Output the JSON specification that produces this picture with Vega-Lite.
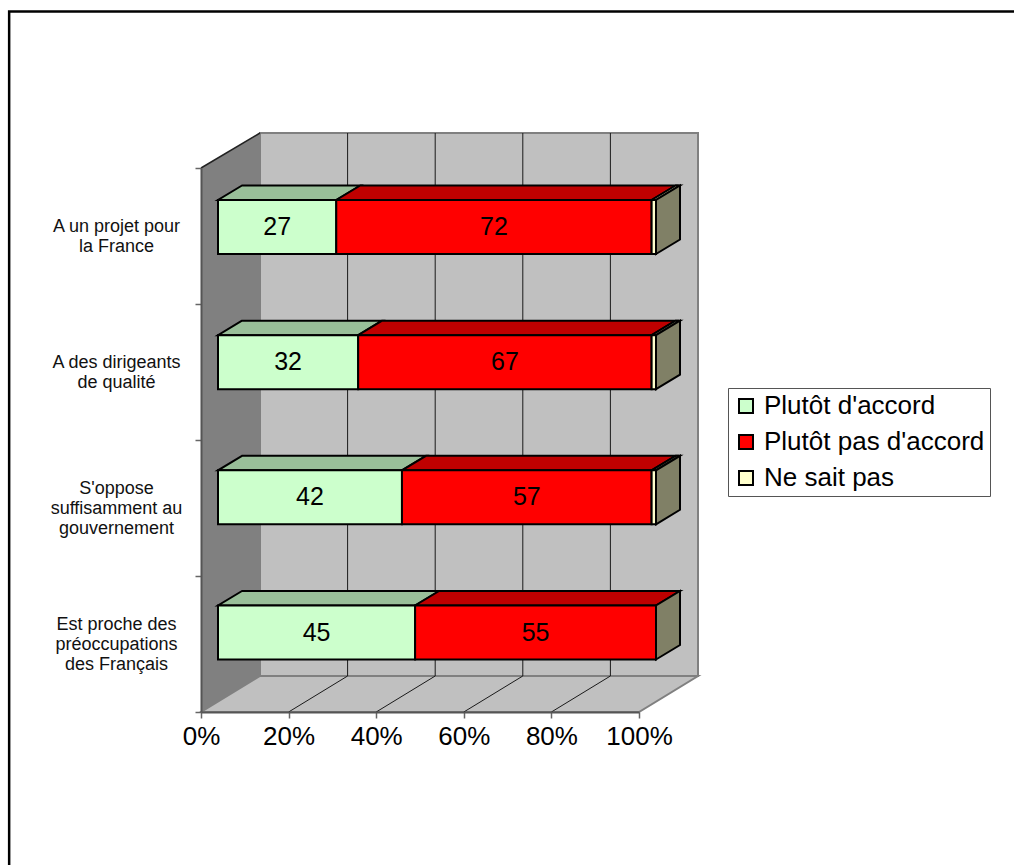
{"$schema":"https://vega.github.io/schema/vega-lite/v6.json","width":438,"height":544,"autosize":{"type":"none"},"padding":{"left":201,"top":168,"right":375,"bottom":153},"background":"white","config":{"view":{"stroke":null},"font":"Liberation Sans"},"datasets":{"main":[{"category":"A un projet pour|la France","series":"Plutôt d'accord","value":27,"rank":1},{"category":"A un projet pour|la France","series":"Plutôt pas d'accord","value":72,"rank":2},{"category":"A un projet pour|la France","series":"Ne sait pas","value":1,"rank":3},{"category":"A des dirigeants|de qualité","series":"Plutôt d'accord","value":32,"rank":1},{"category":"A des dirigeants|de qualité","series":"Plutôt pas d'accord","value":67,"rank":2},{"category":"A des dirigeants|de qualité","series":"Ne sait pas","value":1,"rank":3},{"category":"S'oppose|suffisamment au|gouvernement","series":"Plutôt d'accord","value":42,"rank":1},{"category":"S'oppose|suffisamment au|gouvernement","series":"Plutôt pas d'accord","value":57,"rank":2},{"category":"S'oppose|suffisamment au|gouvernement","series":"Ne sait pas","value":1,"rank":3},{"category":"Est proche des|préoccupations|des Français","series":"Plutôt d'accord","value":45,"rank":1},{"category":"Est proche des|préoccupations|des Français","series":"Plutôt pas d'accord","value":55,"rank":2},{"category":"Est proche des|préoccupations|des Français","series":"Ne sait pas","value":0,"rank":3}],"grid":[{"x":33.47,"x2":33.47,"y":36,"y2":579},{"x":53.47,"x2":53.47,"y":36,"y2":579},{"x":73.47,"x2":73.47,"y":36,"y2":579},{"x":93.47,"x2":93.47,"y":36,"y2":579},{"x":20,"x2":33.47,"y":0,"y2":36},{"x":40,"x2":53.47,"y":0,"y2":36},{"x":60,"x2":73.47,"y":0,"y2":36},{"x":80,"x2":93.47,"y":0,"y2":36}],"tops":[{"id":"1a","series":"Plutôt d'accord","y":512,"x":3.88,"x2":30.88},{"id":"1a","series":"Plutôt d'accord","y":526.5,"x":9.36,"x2":36.36},{"id":"1b","series":"Plutôt pas d'accord","y":512,"x":30.88,"x2":102.88},{"id":"1b","series":"Plutôt pas d'accord","y":526.5,"x":36.36,"x2":108.36},{"id":"1c","series":"Ne sait pas","y":512,"x":102.88,"x2":103.88},{"id":"1c","series":"Ne sait pas","y":526.5,"x":108.36,"x2":109.36},{"id":"2a","series":"Plutôt d'accord","y":376.8,"x":3.88,"x2":35.88},{"id":"2a","series":"Plutôt d'accord","y":391.3,"x":9.36,"x2":41.36},{"id":"2b","series":"Plutôt pas d'accord","y":376.8,"x":35.88,"x2":102.88},{"id":"2b","series":"Plutôt pas d'accord","y":391.3,"x":41.36,"x2":108.36},{"id":"2c","series":"Ne sait pas","y":376.8,"x":102.88,"x2":103.88},{"id":"2c","series":"Ne sait pas","y":391.3,"x":108.36,"x2":109.36},{"id":"3a","series":"Plutôt d'accord","y":241.7,"x":3.88,"x2":45.88},{"id":"3a","series":"Plutôt d'accord","y":256.2,"x":9.36,"x2":51.36},{"id":"3b","series":"Plutôt pas d'accord","y":241.7,"x":45.88,"x2":102.88},{"id":"3b","series":"Plutôt pas d'accord","y":256.2,"x":51.36,"x2":108.36},{"id":"3c","series":"Ne sait pas","y":241.7,"x":102.88,"x2":103.88},{"id":"3c","series":"Ne sait pas","y":256.2,"x":108.36,"x2":109.36},{"id":"4a","series":"Plutôt d'accord","y":106.5,"x":3.88,"x2":48.88},{"id":"4a","series":"Plutôt d'accord","y":121,"x":9.36,"x2":54.36},{"id":"4b","series":"Plutôt pas d'accord","y":106.5,"x":48.88,"x2":103.88},{"id":"4b","series":"Plutôt pas d'accord","y":121,"x":54.36,"x2":109.36}],"sides":[{"id":"1","x":103.88,"y":458,"y2":512},{"id":"1","x":109.36,"y":472.5,"y2":526.5},{"id":"2","x":103.88,"y":322.8,"y2":376.8},{"id":"2","x":109.36,"y":337.3,"y2":391.3},{"id":"3","x":103.88,"y":187.7,"y2":241.7},{"id":"3","x":109.36,"y":202.2,"y2":256.2},{"id":"4","x":103.88,"y":52.5,"y2":106.5},{"id":"4","x":109.36,"y":67,"y2":121}]},"resolve":{"scale":{"y":"independent"}},"layer":[{"data":{"values":[{"x":-43.8,"x2":205,"y":700.5,"y2":-238}]},"mark":{"type":"rect","fill":"white","stroke":"black","strokeWidth":2.5},"encoding":{"x":{"field":"x","type":"quantitative","scale":{"domain":[0,100],"nice":false,"zero":false},"axis":{"values":[0,20,40,60,80,100],"labelExpr":"datum.value + '%'","title":null,"grid":false,"domainColor":"#555555","domainWidth":2,"tickColor":"#666666","tickWidth":1.5,"tickSize":6,"labelFontSize":26,"labelFont":"Liberation Sans","labelColor":"black","labelPadding":5,"labelFlush":false,"zindex":1}},"x2":{"field":"x2"},"y":{"field":"y","type":"quantitative","scale":{"domain":[0,544],"nice":false,"zero":false},"axis":null},"y2":{"field":"y2"}}},{"data":{"values":[{"x":13.47,"x2":113.47,"y":36,"y2":579}]},"mark":{"type":"rect","fill":"#c0c0c0","stroke":"#808080","strokeWidth":2},"encoding":{"x":{"field":"x","type":"quantitative","scale":{"domain":[0,100],"nice":false,"zero":false}},"x2":{"field":"x2"},"y":{"field":"y","type":"quantitative","scale":{"domain":[0,544],"nice":false,"zero":false},"axis":null},"y2":{"field":"y2"}}},{"data":{"values":[{"x":0,"y":0,"y2":544},{"x":13.47,"y":36,"y2":579}]},"mark":{"type":"area","orient":"vertical","fill":"#808080"},"encoding":{"x":{"field":"x","type":"quantitative","scale":{"domain":[0,100],"nice":false,"zero":false}},"y":{"field":"y","type":"quantitative","scale":{"domain":[0,544],"nice":false,"zero":false},"axis":null},"y2":{"field":"y2"}}},{"data":{"values":[{"x":0,"x2":100,"y":0},{"x":13.47,"x2":113.47,"y":36}]},"mark":{"type":"area","orient":"horizontal","fill":"#c0c0c0","stroke":"#808080","strokeWidth":2},"encoding":{"x":{"field":"x","type":"quantitative","scale":{"domain":[0,100],"nice":false,"zero":false}},"x2":{"field":"x2"},"y":{"field":"y","type":"quantitative","scale":{"domain":[0,544],"nice":false,"zero":false},"axis":null}}},{"data":{"name":"grid"},"mark":{"type":"rule","color":"#1a1a1a","strokeWidth":1},"encoding":{"x":{"field":"x","type":"quantitative","scale":{"domain":[0,100],"nice":false,"zero":false}},"x2":{"field":"x2"},"y":{"field":"y","type":"quantitative","scale":{"domain":[0,544],"nice":false,"zero":false},"axis":null},"y2":{"field":"y2"}}},{"data":{"values":[{"x":0,"x2":13.47,"y":544,"y2":579}]},"mark":{"type":"rule","color":"#222222","strokeWidth":1.5},"encoding":{"x":{"field":"x","type":"quantitative","scale":{"domain":[0,100],"nice":false,"zero":false}},"x2":{"field":"x2"},"y":{"field":"y","type":"quantitative","scale":{"domain":[0,544],"nice":false,"zero":false},"axis":null},"y2":{"field":"y2"}}},{"data":{"name":"main"},"mark":{"type":"bar","opacity":0},"encoding":{"x":{"datum":0,"type":"quantitative","scale":{"domain":[0,100],"nice":false,"zero":false}},"y":{"field":"category","type":"nominal","scale":{"domain":["A un projet pour|la France","A des dirigeants|de qualité","S'oppose|suffisamment au|gouvernement","Est proche des|préoccupations|des Français"],"paddingInner":0,"paddingOuter":0},"axis":{"title":null,"labelExpr":"split(datum.label,'|')","labelAngle":0,"labelAlign":"center","labelBaseline":"middle","labelPadding":79,"labelOffset":{"condition":{"test":"length(split(datum.value,'|'))==2","value":-10},"value":-20},"labelFontSize":18,"labelLineHeight":20,"labelFont":"Liberation Sans","labelColor":"#111111","labelLimit":0,"tickBand":"extent","tickSize":6,"tickColor":"#666666","tickWidth":1.5,"domainColor":"#555555","domainWidth":2,"zindex":1}}}},{"data":{"name":"tops"},"mark":{"type":"area","orient":"horizontal","stroke":"black","strokeWidth":2,"strokeJoin":"miter"},"encoding":{"x":{"field":"x","type":"quantitative","scale":{"domain":[0,100],"nice":false,"zero":false}},"x2":{"field":"x2"},"y":{"field":"y","type":"quantitative","scale":{"domain":[0,544],"nice":false,"zero":false},"axis":null},"detail":{"field":"id"},"color":{"field":"series","type":"nominal","scale":{"domain":["Ne sait pas","Plutôt pas d'accord","Plutôt d'accord"],"range":["#bfbf99","#bf0000","#99bf99"]},"legend":null}}},{"data":{"name":"sides"},"mark":{"type":"area","orient":"vertical","fill":"#808066","stroke":"black","strokeWidth":2},"encoding":{"x":{"field":"x","type":"quantitative","scale":{"domain":[0,100],"nice":false,"zero":false}},"y":{"field":"y","type":"quantitative","scale":{"domain":[0,544],"nice":false,"zero":false},"axis":null},"y2":{"field":"y2"},"detail":{"field":"id"}}},{"data":{"name":"main"},"mark":{"type":"bar","size":54,"stroke":"black","strokeWidth":2,"xOffset":17,"x2Offset":17},"encoding":{"x":{"field":"value","type":"quantitative","stack":"zero","scale":{"domain":[0,100],"nice":false,"zero":false}},"y":{"field":"category","type":"nominal","scale":{"domain":["A un projet pour|la France","A des dirigeants|de qualité","S'oppose|suffisamment au|gouvernement","Est proche des|préoccupations|des Français"],"range":[-8.6,532.1],"paddingInner":0,"paddingOuter":0},"axis":null},"order":{"field":"rank","type":"ordinal"},"fill":{"field":"series","type":"nominal","scale":{"domain":["Plutôt d'accord","Plutôt pas d'accord","Ne sait pas"],"range":["#ccffcc","#ff0000","#ffffcc"]},"legend":{"orient":"none","legendX":527,"legendY":220,"title":null,"fillColor":"white","strokeColor":"#555555","padding":5,"symbolType":"square","symbolSize":196,"symbolStrokeColor":"black","symbolStrokeWidth":2,"labelFont":"Liberation Sans","labelFontSize":26,"labelColor":"black","labelOffset":5,"rowPadding":10,"labelLimit":0}}}},{"data":{"name":"main"},"transform":[{"filter":"datum.series !== 'Ne sait pas'"}],"mark":{"type":"text","fontSize":25,"font":"Liberation Sans","color":"black","xOffset":17,"baseline":"middle"},"encoding":{"x":{"field":"value","type":"quantitative","stack":"zero","bandPosition":0.5,"scale":{"domain":[0,100],"nice":false,"zero":false}},"y":{"field":"category","type":"nominal","scale":{"domain":["A un projet pour|la France","A des dirigeants|de qualité","S'oppose|suffisamment au|gouvernement","Est proche des|préoccupations|des Français"],"range":[-8.6,532.1],"paddingInner":0,"paddingOuter":0},"axis":null},"detail":{"field":"series"},"order":{"field":"rank","type":"ordinal"},"text":{"field":"value","type":"quantitative"}}}]}
